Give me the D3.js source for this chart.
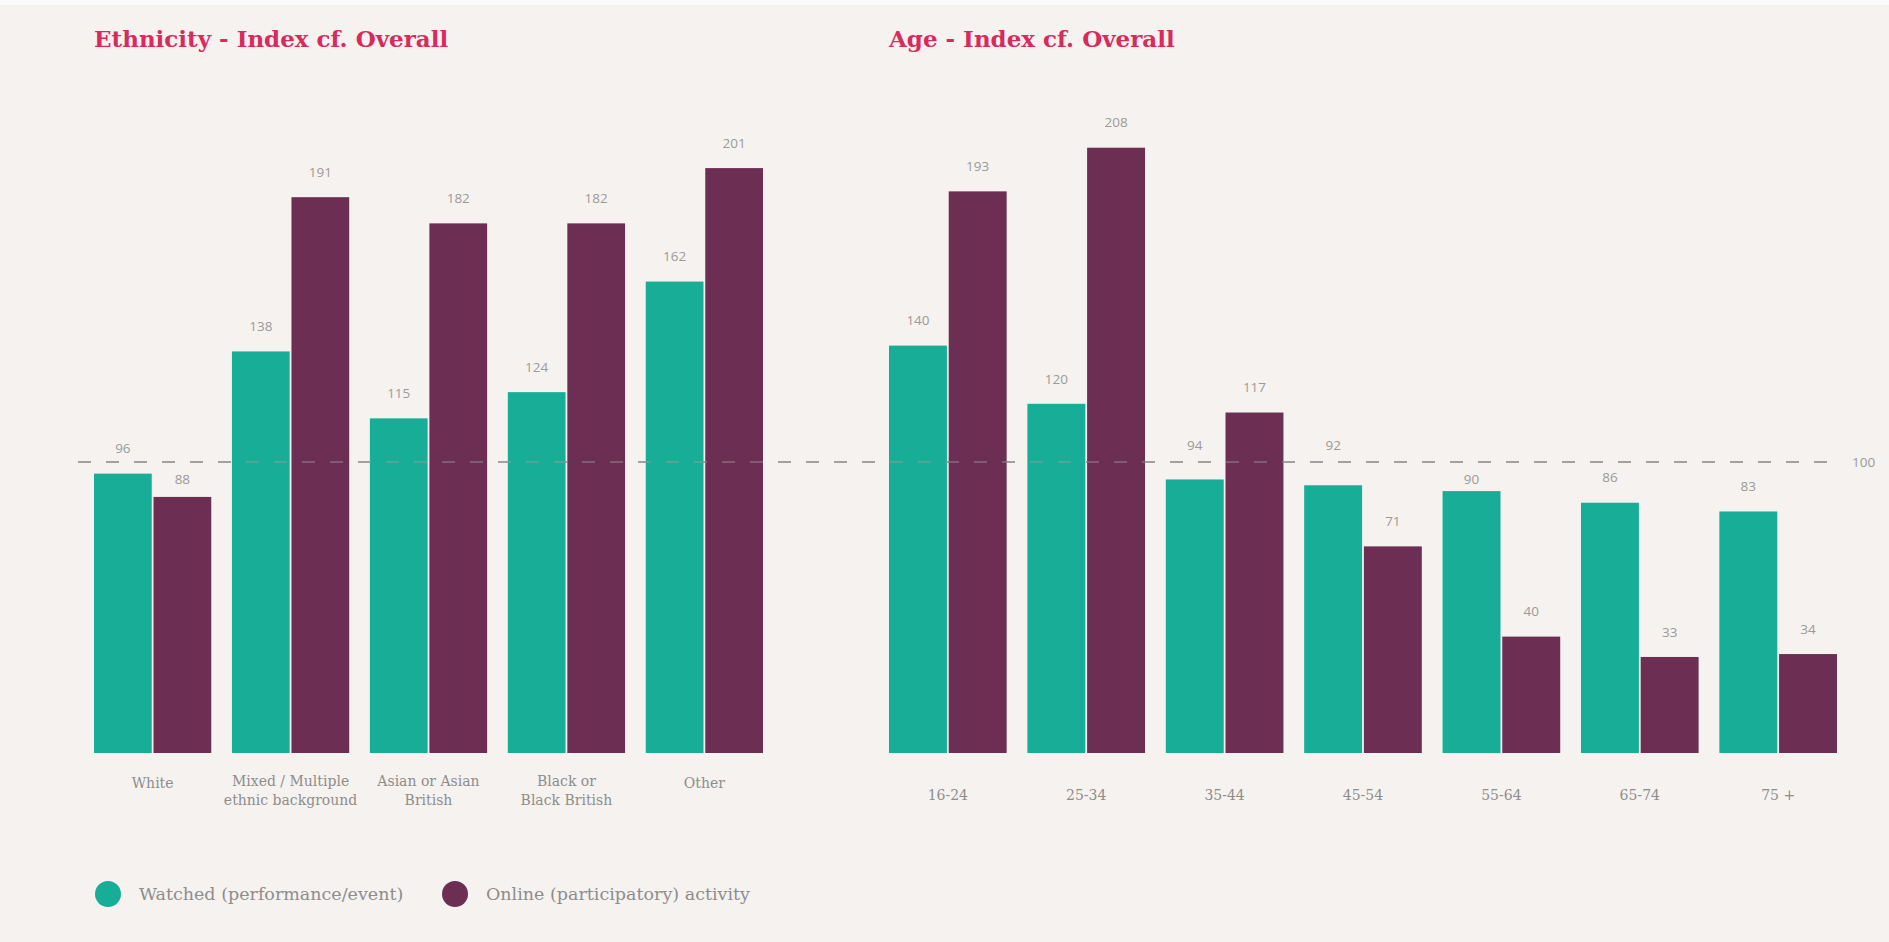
<!DOCTYPE html>
<html>
<head>
<meta charset="utf-8">
<script src="https://cdnjs.cloudflare.com/ajax/libs/d3/7.8.5/d3.min.js"></script>
<style>
  html, body { margin: 0; padding: 0; background: #f5f2f0; }
  #chart { width: 1889px; height: 942px; }
</style>
</head>
<body>
<div id="chart"></div>
<script>
// data
var series = ['Watched (performance/event)', 'Online (participatory) activity'];
var colors = ['#17ad96', '#6c2e52'];

var ethnicity = ['White', 'Mixed / Multiple|ethnic background', 'Asian or Asian|British', 'Black or|Black British', 'Other'];
var ethnicityWatched = [96, 138, 115, 124, 162];
var ethnicityOnline = [88, 191, 182, 182, 201];

var ages = ['16-24', '25-34', '35-44', '45-54', '55-64', '65-74', '75 +'];
var ageWatched = [140, 120, 94, 92, 90, 86, 83];
var ageOnline = [193, 208, 117, 71, 40, 33, 34];

var benchmark = 100;

var W = 1889, H = 942;
var svg = d3.select('#chart').append('svg').attr('width', W).attr('height', H);

svg.append('rect').attr('x', 0).attr('y', 0).attr('width', W).attr('height', 5).attr('fill', '#fbfafa');

var y = d3.scaleLinear().domain([0, 200]).range([753, 171]);
var lineY = y(benchmark);

function refLine(op) {
  svg.append('line')
    .attr('x1', 78).attr('x2', 1838)
    .attr('y1', lineY).attr('y2', lineY)
    .attr('stroke', '#a3a1a0').attr('stroke-width', 2)
    .attr('stroke-opacity', op)
    .attr('stroke-dasharray', '13,15');
}
// dashed line at 100 across both panels (solid behind, faint over the bars)
refLine(1);

var labels = svg.append('g');

function panel(title, cats, watched, online, x0, x1, labelY) {
  var g = svg.append('g');

  g.append('text')
    .attr('x', x0).attr('y', 47)
    .attr('font-family', 'DejaVu Serif').attr('font-weight', 'bold')
    .attr('font-size', 23).attr('fill', '#d92a5c')
    .text(title);

  var xg = d3.scaleBand().domain(cats).range([x0, x1]).paddingInner(0.15).paddingOuter(0);
  var xb = d3.scaleBand().domain([0, 1]).range([0, xg.bandwidth()]).paddingInner(0.03);

  var rows = cats.map(function(c, i) { return { cat: c, v: [watched[i], online[i]] }; });

  var grp = g.selectAll('.grp').data(rows).enter().append('g')
    .attr('class', 'grp')
    .attr('transform', function(d) { return 'translate(' + xg(d.cat) + ',0)'; });

  grp.selectAll('rect')
    .data(function(d) { return d.v.map(function(v, k) { return { k: k, v: v }; }); })
    .enter().append('rect')
    .attr('x', function(d) { return xb(d.k); })
    .attr('y', function(d) { return y(d.v); })
    .attr('width', xb.bandwidth())
    .attr('height', function(d) { return y(0) - y(d.v); })
    .attr('fill', function(d) { return colors[d.k]; });

  // value labels, nudged off the dashed line when they would sit on it
  rows.forEach(function(r) {
    r.v.forEach(function(v, k) {
      var ly = y(v) - 25;
      var off = ly - lineY;
      if (Math.abs(off) < 10) ly = lineY + (off < 0 ? -17 : 17);
      labels.append('text')
        .attr('x', xg(r.cat) + xb(k) + xb.bandwidth() / 2)
        .attr('y', ly).attr('dy', '0.35em')
        .attr('text-anchor', 'middle')
        .attr('font-family', 'Open Sans').attr('font-size', 13.5).attr('fill', '#9c9a99')
        .text(v);
    });
  });

  // category labels, '|' splits lines
  grp.each(function(d) {
    var lines = d.cat.split('|');
    var t = d3.select(this).append('text')
      .attr('text-anchor', 'middle')
      .attr('font-family', 'DejaVu Serif').attr('font-size', 14).attr('fill', '#8f8d8c')
      .attr('y', lines.length > 1 ? labelY - 5 : labelY - 3);
    lines.forEach(function(l, i) {
      t.append('tspan').attr('x', xg.bandwidth() / 2).attr('dy', i ? 19 : 5).text(l);
    });
  });
}

panel('Ethnicity - Index cf. Overall', ethnicity, ethnicityWatched, ethnicityOnline, 94, 763, 786);
panel('Age - Index cf. Overall', ages, ageWatched, ageOnline, 889, 1837, 798);

refLine(0.4);
labels.raise();

svg.append('text')
  .attr('x', 1852).attr('y', lineY).attr('dy', '0.35em')
  .attr('font-family', 'Open Sans').attr('font-size', 13.5).attr('fill', '#9c9a99')
  .text(benchmark);

// legend
var leg = svg.append('g').attr('transform', 'translate(108,894)');
var lx = [0, 347];
series.forEach(function(s, i) {
  leg.append('circle').attr('cx', lx[i]).attr('cy', 0).attr('r', 13).attr('fill', colors[i]);
  leg.append('text').attr('x', lx[i] + 31).attr('y', 0).attr('dy', '0.35em')
    .attr('font-family', 'DejaVu Serif').attr('font-size', 17.5).attr('fill', '#8f8d8c')
    .text(s);
});
</script>
</body>
</html>
